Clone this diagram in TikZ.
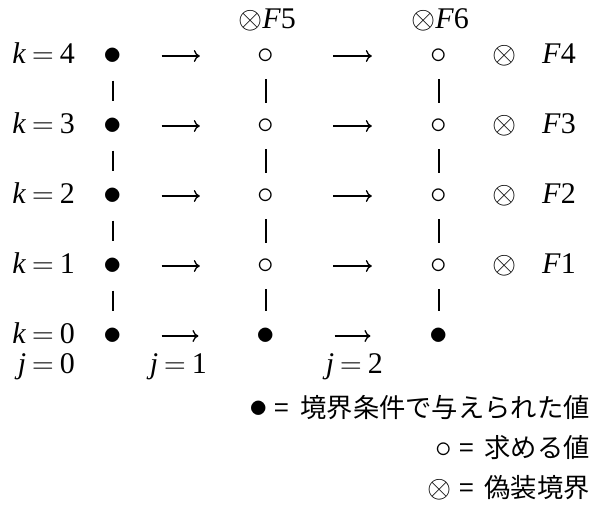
\RequirePackage{fix-cm}
\documentclass[tikz,border=0pt]{standalone}
\usepackage[no-math]{fontspec}
\setmainfont{Liberation Serif}
\newfontfamily\jp{Noto Sans CJK JP}
\usetikzlibrary{arrows.meta}
\newcommand{\eqs}{\hspace{6pt}$=$\hspace{6pt}}
\newcommand{\mbul}{{\fontsize{37}{30}\selectfont$\bullet$}}
\newcommand{\mcirc}{{\fontsize{33}{30}\selectfont$\circ$}}
\newcommand{\motimes}{{\fontsize{31}{30}\selectfont$\otimes$}}
\newcommand{\jeq}{\hspace{7pt}{\jp =}\hspace{11pt}}
\begin{document}
\begin{tikzpicture}[x=1pt,y=-1pt,
  every node/.style={inner sep=0pt, font=\fontsize{30}{36}\selectfont},
  gnode/.style={circle, minimum size=22pt, inner sep=0pt},
  lbl/.style={anchor=base east},
  flbl/.style={anchor=base west},
  jplbl/.style={anchor=east, font=\fontsize{26.3}{30}\selectfont},
  conn/.style={line width=1.3pt},
  tip/.style={-{To[length=6pt,width=12pt]}},
  harrowA/.style={conn, tip, shorten <=36pt, shorten >=55pt},
  harrowB/.style={conn, tip, shorten <=56pt, shorten >=56pt},
  vbar/.style={conn, shorten <=12pt, shorten >=12pt},
]
\useasboundingbox (0,0) rectangle (594,517);
% row labels and first column
\foreach \k/\y in {4/56,3/126,2/196,1/266,0/336}{
  \node[lbl] (k\k) at (75,\y+7.5) {\textit{k}\eqs\k};
  \node[gnode] (a\k) at (113,\y) {\mbul};
}
% inner columns
\foreach \k/\y in {4/56,3/126,2/196,1/266}{
  \node[gnode] (b\k) at (266,\y) {\mcirc};
  \node[gnode] (c\k) at (439,\y) {\mcirc};
  \node[gnode] (x\k) at (505,\y) {\motimes};
  \node[flbl] (f\k) at (542,\y+7.5) {\textit{F}\k};
}
\node[gnode] (b0) at (266,336) {\mbul};
\node[gnode] (c0) at (439,336) {\mbul};
% top labels
\node[flbl] (f5) at (238,28) {\motimes\textit{F}5};
\node[flbl] (f6) at (411,28) {\motimes\textit{F}6};
% horizontal arrows
\foreach \k in {4,3,2,1,0}{
  \draw[harrowA] (a\k) -- (b\k);
  \draw[harrowB] (b\k) -- (c\k);
}
% vertical bars
\foreach \u/\l in {4/3,3/2,2/1,1/0}{
  \draw[vbar] (a\u) -- (a\l);
  \draw[vbar] (b\u) -- (b\l);
  \draw[vbar] (c\u) -- (c\l);
}
% j labels
\node[lbl] (j0) at (75,373) {\textit{j}\eqs 0};
\node[lbl] (j1) at (207,373) {\textit{j}\eqs 1};
\node[lbl] (j2) at (383,373) {\textit{j}\eqs 2};
% legend
\node[jplbl] (l1) at (590,408) {\mbul\jeq{\jp 境界条件で与えられた値}};
\node[jplbl] (l2) at (590,448) {\mcirc\jeq{\jp 求める値}};
\node[jplbl] (l3) at (590,488) {\motimes\jeq{\jp 偽装境界}};
\end{tikzpicture}
\end{document}
